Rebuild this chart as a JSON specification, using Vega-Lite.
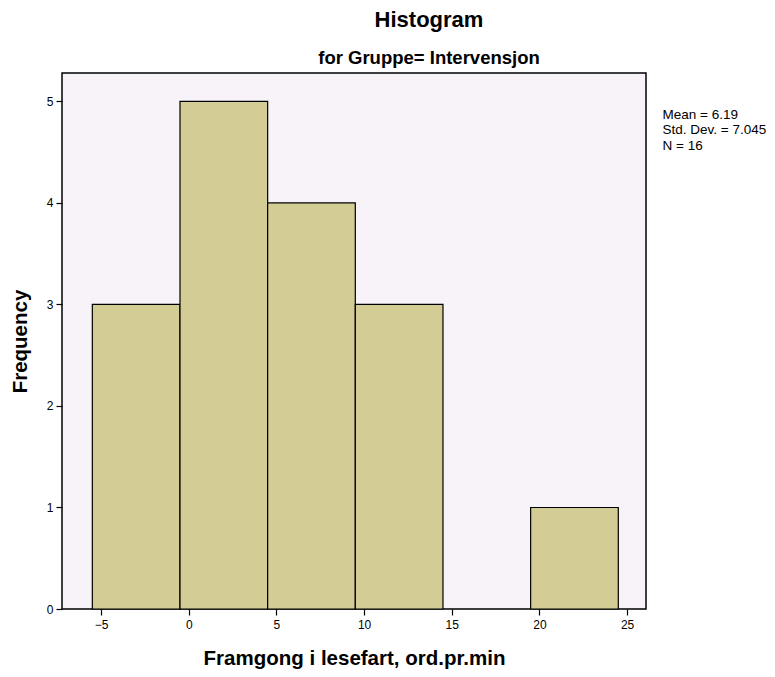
{
  "$schema": "https://vega.github.io/schema/vega-lite/v6.json",
  "width": 584,
  "height": 536,
  "autosize": {"type": "none"},
  "padding": {"left": 62, "top": 73, "right": 129, "bottom": 68},
  "background": "white",
  "view": {"stroke": "black", "strokeWidth": 1.5, "fill": "#F7F3F8"},
  "config": {
    "font": "Liberation Sans",
    "axis": {"grid": false, "domain": false, "tickColor": "black", "tickSize": 6, "tickWidth": 1.2, "labelColor": "black", "labelFontSize": 12, "labelFont": "Liberation Sans", "titleFont": "Liberation Sans", "titleFontSize": 20.5, "titleFontWeight": "bold", "titleColor": "black"}
  },
  "title": {
    "text": "Histogram",
    "subtitle": "for Gruppe= Intervensjon",
    "anchor": "middle",
    "frame": "group",
    "dx": 75,
    "fontSize": 22,
    "fontWeight": "bold",
    "color": "black",
    "subtitleFontSize": 18.5,
    "subtitleFontWeight": "bold",
    "subtitleColor": "black",
    "subtitlePadding": 17,
    "offset": 5
  },
  "layer": [
    {
      "data": {"values": [
        {"bin_start": -5.5, "bin_end": -0.5, "count": 3},
        {"bin_start": -0.5, "bin_end": 4.5, "count": 5},
        {"bin_start": 4.5, "bin_end": 9.5, "count": 4},
        {"bin_start": 9.5, "bin_end": 14.5, "count": 3},
        {"bin_start": 19.5, "bin_end": 24.5, "count": 1}
      ]},
      "mark": {"type": "rect", "fill": "#D4CC95", "stroke": "black", "strokeWidth": 1.2},
      "encoding": {
        "x": {"field": "bin_start", "type": "quantitative", "scale": {"domain": [-7.23, 26.08], "nice": false, "zero": false},
              "axis": {"values": [-5, 0, 5, 10, 15, 20, 25], "title": "Framgong i lesefart, ord.pr.min", "labelPadding": 4, "titlePadding": 18}},
        "x2": {"field": "bin_end"},
        "y": {"field": "count", "type": "quantitative", "scale": {"domain": [0, 5.28], "nice": false},
              "axis": {"values": [0, 1, 2, 3, 4, 5], "title": "Frequency", "labelPadding": 3, "titlePadding": 16}},
        "y2": {"datum": 0}
      }
    },
    {
      "data": {"values": [
        {"stat": "Mean = 6.19"},
        {"stat": "Std. Dev. = 7.045"},
        {"stat": "N = 16"}
      ]},
      "mark": {"type": "point", "opacity": 0},
      "encoding": {
        "color": {"field": "stat", "type": "nominal",
                  "scale": {"domain": ["Mean = 6.19", "Std. Dev. = 7.045", "N = 16"], "range": ["black", "black", "black"]},
                  "legend": {"title": null, "orient": "none", "legendX": 587, "legendY": 35, "symbolSize": 0, "symbolOpacity": 0, "symbolStrokeWidth": 0, "labelOffset": 0, "labelFontSize": 13.5, "labelColor": "black", "rowPadding": 0.5, "padding": 0, "symbolType": "square"}}
      }
    }
  ]
}
